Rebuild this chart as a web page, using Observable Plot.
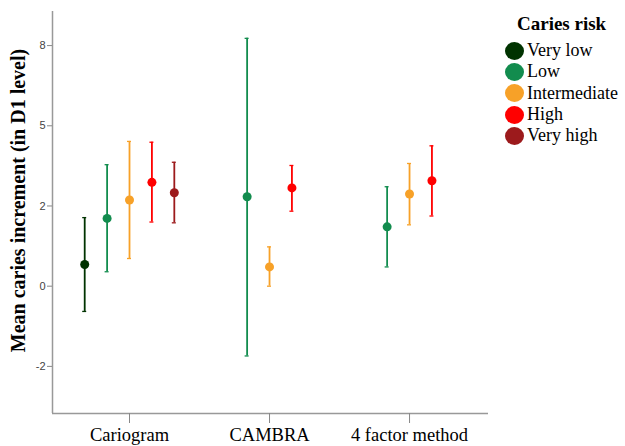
<!DOCTYPE html>
<html><head><meta charset="utf-8">
<script src="https://cdn.jsdelivr.net/npm/d3@7"></script>
<script src="https://cdn.jsdelivr.net/npm/@observablehq/plot@0.6"></script>
<style>
body{margin:0;background:#fff}
#wrap{position:relative;width:625px;height:446px}
#legend{position:absolute;left:505px;top:13px;font-family:"Liberation Serif","Times New Roman",serif;color:#000}
#legend .title{font-weight:bold;font-size:19px;line-height:22px;padding-left:12px;margin-bottom:5px}
#legend .row{display:flex;align-items:center;height:21.3px;font-size:18px}
#legend .sw{width:19px;height:18px;border-radius:50%;margin-right:3px;flex:none}
</style>
</head><body><div id="wrap"></div>
<script>
const methods = ["Cariogram", "CAMBRA", "4 factor method"];
const risks = ["Very low", "Low", "Intermediate", "High", "Very high"];
const colors = ["#003300", "#128c4e", "#f7a128", "#ff0000", "#9c1a1c"];

const method = ["Cariogram","Cariogram","Cariogram","Cariogram","Cariogram","CAMBRA","CAMBRA","CAMBRA","4 factor method","4 factor method","4 factor method"];
const risk   = ["Very low","Low","Intermediate","High","Very high","Low","Intermediate","High","Low","Intermediate","High"];
const mean   = [0.54, 1.69, 2.15, 2.59, 2.33, 2.23, 0.48, 2.45, 1.48, 2.30, 2.63];
const lower  = [-0.63, 0.36, 0.69, 1.60, 1.58, -1.74, 0.00, 1.87, 0.48, 1.53, 1.75];
const upper  = [1.71, 3.03, 3.61, 3.59, 3.09, 6.18, 0.98, 3.01, 2.48, 3.06, 3.50];

const yTicks = [6, 4, 2, 0, -2];
const yTickLabels = ["8", "5", "2", "0", "-2"];
const yLabel = "Mean caries increment (in D1 level)";
const legendTitle = "Caries risk";

const slot = 0.16;
const data = mean.map((m, i) => ({
  method: method[i], risk: risk[i], mean: m, lower: lower[i], upper: upper[i],
  pos: methods.indexOf(method[i]) + (risks.indexOf(risk[i]) - 2) * slot
}));

const xDomain = [-0.55, 2.564];
const yDomain = [-3.175, 6.85];
const serif = "Liberation Serif, Times New Roman, serif";

const chart = Plot.plot({
  width: 625, height: 446,
  marginLeft: 52, marginRight: 137, marginTop: 11, marginBottom: 33,
  x: {type: "linear", domain: xDomain},
  y: {domain: yDomain},
  color: {domain: risks, range: colors},
  marks: [
    Plot.ruleX([xDomain[0]], {stroke: "#999", strokeWidth: 1.5}),
    Plot.ruleY([yDomain[0]], {stroke: "#999", strokeWidth: 1.5}),
    Plot.axisY({ticks: yTicks, tickFormat: d => yTickLabels[yTicks.indexOf(d)], tickSize: 5, tickPadding: 2, stroke: "#888", fill: "#444", fontSize: 11, fontFamily: "Liberation Sans, Arial, sans-serif", label: null}),
    Plot.axisX({ticks: [0, 1, 2], tickFormat: d => methods[d], tickSize: 10, tickPadding: 4, stroke: "#888", fill: "#000", fontSize: 18.5, fontFamily: serif, label: null}),
    Plot.text([yLabel], {text: d => d, frameAnchor: "left", textAnchor: "middle", rotate: -90, dx: -34, dy: -12, fontSize: 20, fontWeight: "bold", fontFamily: serif, fill: "#000"}),
    Plot.ruleX(data, {x: "pos", y1: "lower", y2: "upper", stroke: d => d.risk, strokeWidth: 1.8}),
    Plot.ruleY(data, {y: "upper", x1: "pos", x2: "pos", insetLeft: -2, insetRight: -2, stroke: d => d.risk, strokeWidth: 1.3}),
    Plot.ruleY(data, {y: "lower", x1: "pos", x2: "pos", insetLeft: -2, insetRight: -2, stroke: d => d.risk, strokeWidth: 1.3}),
    Plot.dot(data, {x: "pos", y: "mean", fill: d => d.risk, r: 4.5})
  ]
});

const wrap = document.getElementById("wrap");
wrap.appendChild(chart);

const legend = document.createElement("div");
legend.id = "legend";
const t = document.createElement("div");
t.className = "title"; t.textContent = legendTitle;
legend.appendChild(t);
risks.forEach((r, i) => {
  const row = document.createElement("div"); row.className = "row";
  const sw = document.createElement("span"); sw.className = "sw"; sw.style.background = colors[i];
  const lab = document.createElement("span"); lab.textContent = r;
  row.appendChild(sw); row.appendChild(lab); legend.appendChild(row);
});
wrap.appendChild(legend);
</script>
</body></html>
